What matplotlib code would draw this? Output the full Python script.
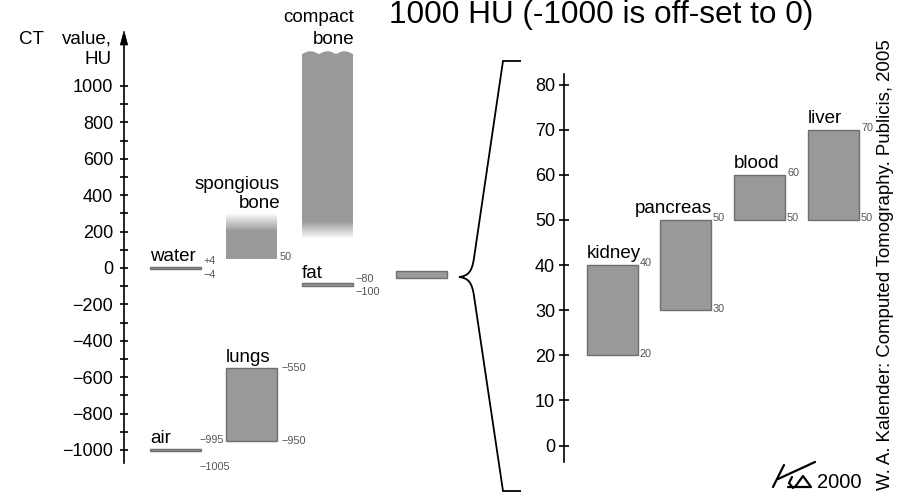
import numpy as np
import matplotlib
matplotlib.use("Agg")
import matplotlib.pyplot as plt
from matplotlib.patches import Rectangle, Polygon, PathPatch
from matplotlib.path import Path
from matplotlib.colors import to_rgb

plt.rcParams['font.family'] = ['Liberation Sans', 'DejaVu Sans']

# ---- data: full CT scale (HU) ----
hu_ticks = [-1000, -800, -600, -400, -200, 0, 200, 400, 600, 800, 1000]
hu_minor = [-900, -700, -500, -300, -100, 100, 300, 500, 700, 900]

tissues = ["water", "air", "lungs", "fat"]
tissue_low = [-4, -1005, -950, -100]
tissue_high = [4, -995, -550, -80]

spongious_solid = (50, 205)
spongious_fade = (205, 300)
compact_solid = (255, 1175)
compact_fade = (160, 255)
soft_box = (-53, -16)

# ---- data: zoomed scale (0..80) ----
zoom_ticks = [0, 10, 20, 30, 40, 50, 60, 70, 80]
organs = ["kidney", "pancreas", "blood", "liver"]
organ_low = [20, 30, 50, 50]
organ_high = [40, 50, 60, 70]

# ---- layout (pixels) ----
W, H = 897, 495
BAR_W = 51
tissue_x = [150, 150, 226, 302]
spong_x, compact_x, box_x = 226, 302, 396
organ_x = [587, 660, 734, 808]
GRAY = '#999999'
EDGE = '#6f6f6f'
SMALL = '#555555'
PX = 0.72  # points per pixel at dpi 100

fig = plt.figure(figsize=(W / 100, H / 100), dpi=100)
fig.patch.set_facecolor('white')

# left axis: y_px = 268 - 0.182*HU
ax1 = fig.add_axes([0, 0, 1, 1])
ax1.set_facecolor('none')
# right axis: y_px = 445.5 - 4.5125*v
ax2 = fig.add_axes([0, 0, 1, 1])
ax2.set_facecolor('none')
deco = fig.add_axes([0, 0, 1, 1])
deco.set_facecolor('none')
deco.axis('off')


def small(ax, x, v, s, dy=0, ha='left'):
    ax.annotate(s, (x, v), xytext=(0, dy * PX), textcoords='offset points',
                ha=ha, va='center', fontsize=7.8, color=SMALL)


def label(ax, x, v, s, dy=6, ha='left'):
    ax.annotate(s, (x, v), xytext=(0, dy * PX), textcoords='offset points',
                ha=ha, va='baseline', fontsize=13.5)


def fade(ax, x, lo, hi, upward):
    a = np.linspace(1, 0, 64) if upward else np.linspace(0, 1, 64)
    img = np.zeros((64, 1, 4))
    img[:, 0, :3] = to_rgb(GRAY)
    img[:, 0, 3] = a
    ax.imshow(img, extent=(x, x + BAR_W, lo, hi), origin='lower',
              aspect='auto', interpolation='bilinear', zorder=2)


# tissues on left scale
for name, x, lo, hi in zip(tissues, tissue_x, tissue_low, tissue_high):
    ax1.add_patch(Rectangle((x, lo), BAR_W, hi - lo, facecolor=GRAY,
                            edgecolor=EDGE, lw=1, zorder=3))
    label(ax1, x, hi, name, dy=6 if name != "fat" else 5)

# spongious bone
ax1.add_patch(Rectangle((spong_x, spongious_solid[0]), BAR_W,
                        spongious_solid[1] - spongious_solid[0],
                        facecolor=GRAY, edgecolor='none', zorder=2))
fade(ax1, spong_x, *spongious_fade, upward=True)
label(ax1, spong_x + 54, spongious_fade[1], "bone", dy=5, ha='right')
label(ax1, spong_x + 54, spongious_fade[1], "spongious", dy=24, ha='right')

# compact bone with wavy top
wx = np.linspace(compact_x, compact_x + BAR_W, 80)
wy = compact_solid[1] + 16 * np.abs(np.sin(3 * np.pi * (wx - compact_x) / BAR_W))
verts = [(compact_x, compact_solid[0])] + list(zip(wx, wy)) + \
        [(compact_x + BAR_W, compact_solid[0])]
ax1.add_patch(Polygon(verts, closed=True, facecolor=GRAY, edgecolor='none', zorder=2))
fade(ax1, compact_x, *compact_fade, upward=False)
label(ax1, compact_x + 52, compact_solid[1], "bone", dy=10, ha='right')
label(ax1, compact_x + 52, compact_solid[1], "compact", dy=32, ha='right')

# box that gets zoomed
ax1.add_patch(Rectangle((box_x, soft_box[0]), BAR_W, soft_box[1] - soft_box[0],
                        facecolor=GRAY, edgecolor=EDGE, lw=1, zorder=3))

# small value labels, left
small(ax1, 203, tissue_high[0], "+4", dy=6)
small(ax1, 203, tissue_low[0], "\u22124", dy=-6)
small(ax1, 199, tissue_high[1], "\u2212995", dy=9)
small(ax1, 199, tissue_low[1], "\u22121005", dy=-16)
small(ax1, 281, tissue_high[2], "\u2212550", dy=0)
small(ax1, 281, tissue_low[2], "\u2212950", dy=0)
small(ax1, 355, tissue_high[3], "\u221280", dy=4)
small(ax1, 355, tissue_low[3], "\u2212100", dy=-6)
small(ax1, 280, spongious_solid[0], "50", dy=2)

# organs on zoomed scale
for name, x, lo, hi in zip(organs, organ_x, organ_low, organ_high):
    ax2.add_patch(Rectangle((x, lo), BAR_W, hi - lo, facecolor=GRAY,
                            edgecolor=EDGE, lw=1, zorder=3))
    if name == "pancreas":
        label(ax2, x + BAR_W + 1, hi, name, dy=7, ha='right')
    else:
        label(ax2, x, hi, name, dy=7)
    small(ax2, x + BAR_W + 2, hi, str(hi), dy=1.5)
    small(ax2, x + BAR_W + 2, lo, str(lo), dy=1.5)

# axes styling
for ax, xpos, ticks, lo_b, hi_b, ln, pd, fs in (
        (ax1, 124, hu_ticks, -1070, 1240, 5.5, 5.0, 13),
        (ax2, 564, zoom_ticks, -3.7, 82.3, 6.5, 3.2, 13)):
    for s in ('top', 'right', 'bottom'):
        ax.spines[s].set_visible(False)
    ax.spines['left'].set_position(('data', xpos))
    ax.spines['left'].set_bounds(lo_b, hi_b)
    ax.spines['left'].set_linewidth(1.2)
    ax.set_yticks(ticks)
    ax.set_xticks([])
    ax.tick_params(axis='y', which='both', direction='inout', length=ln,
                   width=1.2, pad=pd, labelsize=fs)

ax1.set_yticks(hu_minor, minor=True)
ax1.set_xlim(0, W)
ax1.set_ylim((268 - H) / 0.182, 268 / 0.182)
ax2.set_xlim(0, W)
ax2.set_ylim((445.5 - H) / 4.5125, 445.5 / 4.5125)

# decorations in pixel coordinates
deco.set_xlim(0, W)
deco.set_ylim(H, 0)
deco.add_patch(Polygon([(124, 31), (120.3, 45), (127.7, 45)], closed=True,
                       facecolor='black', edgecolor='black', lw=0.5))
deco.text(19, 44, "CT", fontsize=13.5, va='baseline')
deco.text(112, 44, "value,", fontsize=13.5, va='baseline', ha='right')
deco.text(112, 64, "HU", fontsize=13.5, va='baseline', ha='right')

brace = Path([(521, 61), (503, 61), (474, 258),
              (472, 272), (468, 276), (459, 277),
              (468, 278), (472, 282), (474, 296),
              (503, 491), (521, 491)],
             [Path.MOVETO, Path.LINETO, Path.LINETO,
              Path.CURVE4, Path.CURVE4, Path.CURVE4,
              Path.CURVE4, Path.CURVE4, Path.CURVE4,
              Path.LINETO, Path.LINETO])
deco.add_patch(PathPatch(brace, facecolor='none', edgecolor='black', lw=1.3))

deco.text(389, 23.5, "1000 HU (-1000 is off-set to 0)", fontsize=22.7,
          va='baseline', ha='left')
deco.text(877, 490, "W. A. Kalender: Computed Tomography. Publicis, 2005",
          fontsize=13.4, rotation=90, ha='left', va='bottom')

# signature
sig = dict(color='black', lw=1.6, solid_capstyle='round')
deco.plot([773, 784], [487, 465], **sig)
deco.plot([778, 815], [479, 462], **sig)
deco.plot([792, 789, 793], [477, 483, 488], **sig)
deco.plot([795, 803, 811, 788], [487, 476, 487, 487], **sig)
deco.text(817, 488, "2000", fontsize=14.5, va='baseline')

fig.savefig("out.png", dpi=100)
